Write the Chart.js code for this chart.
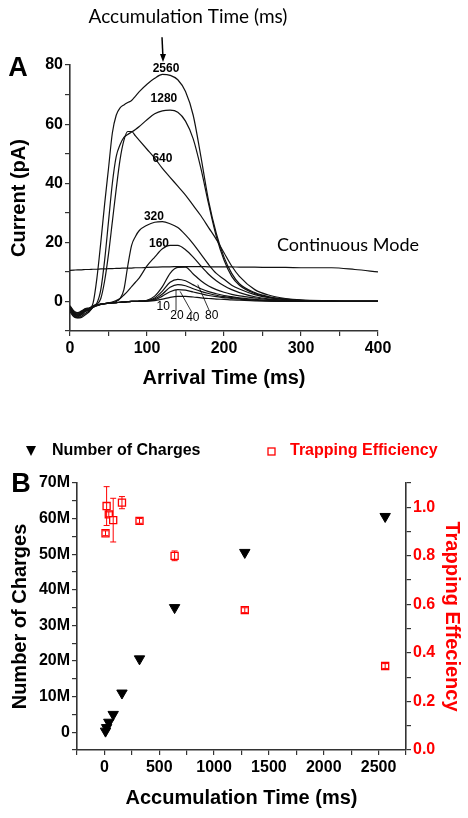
<!DOCTYPE html>
<html>
<head>
<meta charset="utf-8">
<script src="https://cdn.jsdelivr.net/npm/chart.js@4.4.1/dist/chart.umd.min.js"></script>
<style>
  html, body { margin: 0; padding: 0; background: #fff; }
  #wrap { position: relative; width: 468px; height: 818px; }
  #chartA { position: absolute; left: 0; top: 0; }
  #chartB { position: absolute; left: 0; top: 400px; }
</style>
</head>
<body>
<div id="wrap">
  <canvas id="chartA" width="468" height="400" style="width:468px;height:400px"></canvas>
  <canvas id="chartB" width="468" height="418" style="width:468px;height:418px"></canvas>
</div>
<script>
/* Panel A: current traces vs arrival time; panel B: charges + trapping efficiency */

// ---- panel A data (arrival time in ms, current in pA) ----
const arrivalTimes = [0, 5, 10, 15, 20, 25, 30, 35, 40, 45, 50, 55, 60, 65, 70, 75, 80, 85, 90,
  100, 110, 120, 130, 140, 150, 160, 170, 180, 190, 200, 210, 220, 240, 260, 280, 300, 340, 370, 400];

const traceNames = ['2560', '1280', '640', '320', '160', '80', '40', '20', '10', '5'];

const cur2560 = [-1.5, -3.8, -4.3, -3.6, -2.6, -2.4, -0.5, 8, 20, 33, 45, 57, 63, 65.5, 66.5, 67.3, 68, 69.5, 71,
  73.5, 75.5, 76.8, 76.5, 75, 71, 63, 49, 34, 23, 15, 9.5, 6, 3, 1.5, 0.8, 0.4, 0.1, 0, 0];
const cur1280 = [-2, -4.2, -4.7, -4, -3, -2.7, -1.5, -0.5, 4, 14, 27, 40, 49, 53, 55.5, 56.5, 57.3, 58.2, 59.2,
  61.5, 63.5, 64.5, 64.7, 64, 61, 55, 45, 33, 22, 14, 8.5, 5.5, 2.7, 1.4, 0.7, 0.3, 0.1, 0, 0];
const cur640 = [-2.5, -4.6, -5.2, -4.5, -3.4, -3, -1.8, -1, 1, 7, 16, 27, 38, 48, 54.5, 57.5, 57.5, 56, 54.5,
  51.5, 48.5, 45, 42, 39, 36, 32.5, 29, 25, 21, 16.5, 12, 8.5, 4, 2, 1, 0.5, 0.2, 0, 0];
const cur320 = [-3, -5, -5.5, -5, -4, -3.2, -2, -1.4, -1, -0.7, -0.5, -0.3, 0, 1, 4, 12, 19, 22, 24,
  25.8, 26.8, 27, 26.3, 25, 22.5, 19.5, 16, 12.5, 9.5, 7.5, 5.5, 4.2, 2.3, 1.2, 0.6, 0.3, 0.1, 0, 0];
const cur160 = [-3.5, -5.2, -5.6, -5.4, -4.5, -3.5, -2, -1.4, -1, -0.8, -0.5, -0.2, 0.3, 1, 2.2, 3.5, 5, 6.5, 8,
  12, 15, 17.8, 19, 19, 17.5, 15, 12, 9.2, 7, 5.3, 4, 3, 1.6, 0.8, 0.4, 0.2, 0, 0, 0];
const cur80 = [-2.5, -4.4, -5, -4.3, -3.2, -2.9, -1.9, -1.3, -1, -0.8, -0.6, -0.5, -0.4, -0.3, -0.2, -0.1, 0, 0, 0.1,
  0.4, 1.8, 5, 9.5, 11.5, 11.6, 9.3, 7, 5.2, 4, 3.1, 2.4, 1.9, 1.2, 0.6, 0.3, 0.1, 0, 0, 0];
const cur40 = [-2.2, -4, -4.6, -4, -3, -2.7, -1.8, -1.3, -1, -0.8, -0.6, -0.5, -0.4, -0.3, -0.2, -0.1, 0, 0, 0.1,
  0.3, 1.2, 3.5, 6.5, 7.5, 7, 5.6, 4.3, 3.3, 2.6, 2, 1.6, 1.2, 0.7, 0.3, 0.1, 0, 0, 0, 0];
const cur20 = [-2, -3.8, -4.3, -3.7, -2.8, -2.5, -1.7, -1.2, -0.9, -0.7, -0.6, -0.5, -0.4, -0.3, -0.2, -0.1, 0, 0, 0.1,
  0.2, 0.8, 2.5, 4.8, 5.7, 5.3, 4.3, 3.4, 2.7, 2.1, 1.6, 1.3, 1, 0.5, 0.2, 0.1, 0, 0, 0, 0];
const cur10 = [-1.8, -3.5, -4, -3.5, -2.6, -2.4, -1.6, -1.2, -0.9, -0.7, -0.6, -0.5, -0.4, -0.3, -0.2, -0.1, 0, 0, 0.1,
  0.2, 0.5, 1.8, 3.3, 4, 3.8, 3.2, 2.6, 2, 1.6, 1.3, 1, 0.8, 0.4, 0.2, 0.1, 0, 0, 0, 0];
const cur5 = [-1.5, -3.2, -3.8, -3.2, -2.4, -2.2, -1.5, -1.1, -0.9, -0.7, -0.6, -0.5, -0.4, -0.3, -0.2, -0.1, 0, 0, 0,
  0.1, 0.3, 0.8, 1.4, 1.7, 1.7, 1.5, 1.2, 1, 0.8, 0.7, 0.5, 0.4, 0.2, 0.1, 0, 0, 0, 0, 0];
const continuousMode = [10.5, 10.6, 10.7, 10.7, 10.8, 10.8, 10.9, 10.9, 11, 11, 11.1, 11.1, 11.2, 11.2, 11.3, 11.3, 11.3, 11.4, 11.4,
  11.5, 11.6, 11.7, 11.7, 11.8, 11.8, 11.8, 11.8, 11.7, 11.7, 11.7, 11.7, 11.6, 11.6, 11.5, 11.5, 11.4, 11.4, 10.8, 10.0];

// ---- panel B data ----
const accTimes   = [10, 20, 40, 80, 160, 320, 640, 1280, 2560];
const numCharges = [0.3e6, 1.3e6, 2.8e6, 5.0e6, 11.0e6, 20.6e6, 35.0e6, 50.5e6, 60.6e6];
const trapEff    = [0.893, 1.005, 0.971, 0.947, 1.019, 0.944, 0.80, 0.576, 0.346];
const trapErr    = [0.01, 0.08, 0.01, 0.09, 0.025, 0.01, 0.02, 0.01, 0.01];

const AXIS = '#333';
const RED  = '#f00';
const FONT = "'Liberation Sans', Arial, sans-serif";
const TEXT_FONT = "Lato, 'Open Sans', sans-serif";

const toPoints = (xs, ys) => ys.map((v, i) => ({ x: xs[i], y: v }));

// ---------- Panel A ----------
const traces = [cur2560, cur1280, cur640, cur320, cur160, cur80, cur40, cur20, cur10, cur5];
const datasetsA = traces.map((vals, i) => ({
  label: traceNames[i] + ' ms',
  data: toPoints(arrivalTimes, vals),
  borderColor: '#111',
  borderWidth: 1.2,
  pointRadius: 0,
  cubicInterpolationMode: 'monotone',
}));
datasetsA.push({
  label: 'Continuous Mode',
  data: toPoints(arrivalTimes, continuousMode),
  borderColor: '#111',
  borderWidth: 1.2,
  pointRadius: 0,
  cubicInterpolationMode: 'monotone',
});

// label spots in data units (t, pA)
const notesA = [
  { text: traceNames[0], t: 124.7, v: 78.6 },
  { text: traceNames[1], t: 122, v: 68.5 },
  { text: traceNames[2], t: 120, v: 48.2 },
  { text: traceNames[3], t: 109, v: 28.7 },
  { text: traceNames[4], t: 115.6, v: 19.6 },
];
const smallNotesA = [
  { text: traceNames[8], t: 121, v: -1.7 },
  { text: traceNames[7], t: 139, v: -4.9, line: [137.7, 4.0, 137.7, -3.2] },
  { text: traceNames[6], t: 159.5, v: -5.5, line: [143, 3.4, 158.5, -3.8] },
  { text: traceNames[5], t: 184, v: -4.9, line: [166, 5.7, 180.5, -2.9] },
];

const annotA = {
  id: 'annotA',
  afterDraw(chart) {
    const { ctx, scales: { x, y } } = chart;
    const px = t => x.getPixelForValue(t);
    const py = v => y.getPixelForValue(v);
    ctx.save();
    ctx.fillStyle = '#000';
    ctx.strokeStyle = '#000';
    ctx.textAlign = 'center';
    ctx.textBaseline = 'middle';

    ctx.font = `bold 27px ${FONT}`;
    ctx.fillText('A', 18, 69);

    ctx.font = `19px ${TEXT_FONT}`;
    ctx.fillText('Accumulation Time (ms)', 188, 17);

    // arrow to the 2560 trace
    const ax = px(119.5), ay = py(89.4), bx = px(120.8), by = py(81);
    ctx.lineWidth = 1.5;
    ctx.beginPath(); ctx.moveTo(ax, ay); ctx.lineTo(bx, by - 3); ctx.stroke();
    ctx.beginPath();
    ctx.moveTo(bx, by); ctx.lineTo(bx - 3, by - 8); ctx.lineTo(bx + 3, by - 8); ctx.closePath();
    ctx.fill();

    ctx.font = `bold 12px ${FONT}`;
    notesA.forEach(n => ctx.fillText(n.text, px(n.t), py(n.v)));

    ctx.font = `18px ${TEXT_FONT}`;
    ctx.fillText('Continuous Mode', px(361), py(19.2));

    ctx.font = `12px ${FONT}`;
    ctx.lineWidth = 0.8;
    smallNotesA.forEach(n => {
      ctx.fillText(n.text, px(n.t), py(n.v));
      if (n.line) {
        ctx.beginPath();
        ctx.moveTo(px(n.line[0]), py(n.line[1]));
        ctx.lineTo(px(n.line[2]), py(n.line[3]));
        ctx.stroke();
      }
    });
    ctx.restore();
  }
};

const axisCommon = {
  grid: { drawOnChartArea: false, drawTicks: true, tickLength: 5, color: AXIS, lineWidth: 1.2 },
  border: { display: true, color: AXIS, width: 1.6 },
};

new Chart(document.getElementById('chartA'), {
  type: 'line',
  data: { datasets: datasetsA },
  options: {
    responsive: false,
    animation: false,
    layout: { padding: { top: 65, right: 90, left: 0, bottom: 0 } },
    plugins: { legend: { display: false }, tooltip: { enabled: false } },
    scales: {
      x: {
        type: 'linear', min: 0, max: 400,
        ...axisCommon,
        ticks: {
          stepSize: 50, padding: 3, color: '#000', maxRotation: 0, autoSkip: false,
          font: { family: FONT, size: 16, weight: 'bold' },
          callback: v => (v % 100 === 0 ? String(v) : ''),
        },
        title: {
          display: true, text: 'Arrival Time (ms)', color: '#000',
          font: { family: FONT, size: 20, weight: 'bold' },
          padding: { top: 0, bottom: 10 },
        },
        afterFit: s => { s.height = 69; },
      },
      y: {
        type: 'linear', min: -10, max: 80,
        ...axisCommon,
        ticks: {
          stepSize: 10, padding: 2, color: '#000', autoSkip: false,
          font: { family: FONT, size: 16, weight: 'bold' },
          callback: v => (v % 20 === 0 ? String(v) : ''),
        },
        title: {
          display: true, text: 'Current (pA)', color: '#000',
          font: { family: FONT, size: 20, weight: 'bold' },
          padding: { top: 7, bottom: 0 },
        },
        afterFit: s => { s.width = 70; },
      },
    },
  },
  plugins: [annotA],
});

// ---------- Panel B ----------
const errorBars = {
  id: 'errorBars',
  afterDatasetsDraw(chart) {
    const { ctx, scales: { x, y1 } } = chart;
    ctx.save();
    ctx.strokeStyle = RED;
    ctx.lineWidth = 1;
    accTimes.forEach((t, i) => {
      const cx = x.getPixelForValue(t);
      const top = y1.getPixelForValue(trapEff[i] + trapErr[i]);
      const bot = y1.getPixelForValue(trapEff[i] - trapErr[i]);
      ctx.beginPath();
      ctx.moveTo(cx, top); ctx.lineTo(cx, bot);
      ctx.moveTo(cx - 3, top); ctx.lineTo(cx + 3, top);
      ctx.moveTo(cx - 3, bot); ctx.lineTo(cx + 3, bot);
      ctx.stroke();
    });
    ctx.restore();
  }
};

const legendB = {
  id: 'legendB',
  afterDraw(chart) {
    const { ctx } = chart;
    const ds = chart.data.datasets;
    ctx.save();
    ctx.textAlign = 'left';
    ctx.textBaseline = 'middle';
    ctx.font = `bold 16px ${FONT}`;
    // triangle (pointing down)
    ctx.fillStyle = '#000';
    ctx.beginPath();
    ctx.moveTo(26, 46); ctx.lineTo(36, 46); ctx.lineTo(31, 56); ctx.closePath();
    ctx.fill();
    ctx.fillText(ds[0].label, 52, 51);
    // open square
    ctx.strokeStyle = RED;
    ctx.lineWidth = 1.3;
    ctx.strokeRect(268, 48, 7, 7);
    ctx.fillStyle = RED;
    ctx.fillText(ds[1].label, 290, 51);

    ctx.fillStyle = '#000';
    ctx.textAlign = 'center';
    ctx.font = `bold 27px ${FONT}`;
    ctx.fillText('B', 21, 85);
    ctx.restore();
  }
};

new Chart(document.getElementById('chartB'), {
  type: 'scatter',
  data: {
    datasets: [
      {
        label: 'Number of Charges',
        data: toPoints(accTimes, numCharges),
        yAxisID: 'y',
        pointStyle: 'triangle',
        rotation: 180,
        pointRadius: 6,
        backgroundColor: '#000',
        borderColor: '#000',
        borderWidth: 1,
      },
      {
        label: 'Trapping Efficiency',
        data: toPoints(accTimes, trapEff),
        yAxisID: 'y1',
        pointStyle: 'rect',
        pointRadius: 5,
        backgroundColor: '#fff',
        borderColor: RED,
        borderWidth: 1.3,
      },
    ],
  },
  options: {
    responsive: false,
    animation: false,
    layout: { padding: { top: 83, right: 0, left: 0, bottom: 0 } },
    plugins: { legend: { display: false }, tooltip: { enabled: false } },
    scales: {
      x: {
        type: 'linear', min: -250, max: 2750,
        ...axisCommon,
        ticks: {
          stepSize: 250, padding: 3, color: '#000', maxRotation: 0, autoSkip: false,
          font: { family: FONT, size: 16, weight: 'bold' },
          callback: v => (v % 500 === 0 ? String(v) : ''),
        },
        title: {
          display: true, text: 'Accumulation Time (ms)', color: '#000',
          font: { family: FONT, size: 20, weight: 'bold' },
          padding: { top: 0, bottom: 8 },
        },
        afterFit: s => { s.height = 68; },
      },
      y: {
        type: 'linear', position: 'left', min: -5e6, max: 70e6,
        ...axisCommon,
        ticks: {
          stepSize: 5e6, padding: 2, color: '#000', autoSkip: false,
          font: { family: FONT, size: 16, weight: 'bold' },
          callback: v => (v % 10e6 === 0 ? (v === 0 ? '0' : v / 1e6 + 'M') : ''),
        },
        title: {
          display: true, text: 'Number of Charges', color: '#000',
          font: { family: FONT, size: 20, weight: 'bold' },
          padding: { top: 8, bottom: 0 },
        },
        afterFit: s => { s.width = 77; },
      },
      y1: {
        type: 'linear', position: 'right', min: 0, max: 1.1,
        ...axisCommon,
        ticks: {
          stepSize: 0.1, padding: 2, color: RED, autoSkip: false,
          font: { family: FONT, size: 16, weight: 'bold' },
          callback: v => (Math.round(v * 10) % 2 === 0 ? v.toFixed(1) : ''),
        },
        title: {
          display: true, text: 'Trapping Effeciency', color: RED,
          font: { family: FONT, size: 20, weight: 'bold' },
          padding: { top: 4, bottom: 0 },
        },
        afterFit: s => { s.width = 62; },
      },
    },
  },
  plugins: [errorBars, legendB],
});
</script>
</body>
</html>
